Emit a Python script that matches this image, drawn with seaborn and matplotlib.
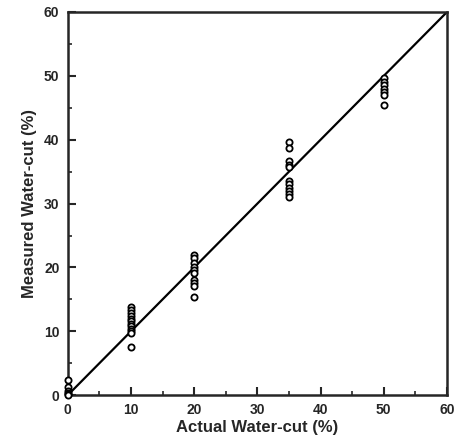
import numpy as np
import pandas as pd
import matplotlib
matplotlib.use("Agg")
import matplotlib.pyplot as plt
import seaborn as sns
from matplotlib.ticker import MultipleLocator

sns.set_style("ticks")
plt.rcParams['font.family'] = ['Liberation Sans', 'DejaVu Sans']

# measured water-cut for each actual water-cut level
actual_0 = [0, 0, 0, 0, 0, 0]
measured_0 = [2.3, 1.2, 0.7, 0.4, 0.2, 0.0]
actual_10 = [10] * 12
measured_10 = [13.8, 13.3, 12.8, 12.4, 12.0, 11.6, 11.2, 10.8, 10.4, 10.0, 9.7, 7.5]
actual_20 = [20] * 10
measured_20 = [22.0, 21.4, 20.7, 20.1, 19.6, 19.1, 18.0, 17.5, 17.1, 15.4]
actual_35 = [35] * 11
measured_35 = [39.6, 38.7, 36.7, 36.1, 35.7, 33.5, 33.0, 32.5, 32.0, 31.5, 31.0]
actual_50 = [50] * 7
measured_50 = [49.6, 49.1, 48.6, 48.0, 47.5, 47.0, 45.4]

df = pd.DataFrame({
    "actual": actual_0 + actual_10 + actual_20 + actual_35 + actual_50,
    "measured": measured_0 + measured_10 + measured_20 + measured_35 + measured_50,
})

fig = plt.figure(figsize=(4.58, 4.44), dpi=100)
ax = fig.add_axes([0.148, 0.11, 0.828, 0.863])

# 1:1 line
ax.plot([0, 60], [0, 60], color="black", lw=1.6, zorder=1)
sns.scatterplot(data=df, x="actual", y="measured", ax=ax, marker="o", s=20,
                facecolor="white", edgecolor="black", linewidth=1.3, zorder=3,
                clip_on=False)

ax.set_xlim(0, 60)
ax.set_ylim(0, 60)
ax.xaxis.set_major_locator(MultipleLocator(10))
ax.xaxis.set_minor_locator(MultipleLocator(5))
ax.yaxis.set_major_locator(MultipleLocator(10))
ax.yaxis.set_minor_locator(MultipleLocator(5))
ax.tick_params(which="major", direction="in", length=6, width=1.5, labelsize=10, pad=6)
ax.tick_params(which="minor", direction="in", length=3, width=1.2)
for lab in ax.get_xticklabels() + ax.get_yticklabels():
    lab.set_fontweight("bold")
for sp in ax.spines.values():
    sp.set_linewidth(1.8)

ax.set_xlabel("Actual Water-cut (%)", fontsize=12, fontweight="bold", labelpad=2)
ax.set_ylabel("Measured Water-cut (%)", fontsize=12, fontweight="bold", labelpad=5)

fig.savefig("out.png", dpi=100)
